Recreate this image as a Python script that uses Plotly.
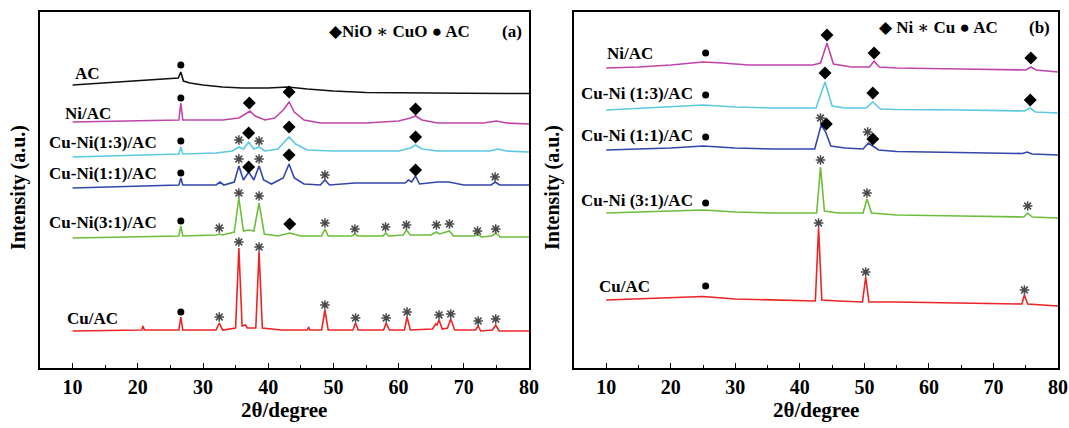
import plotly.graph_objects as go

# ---------------- Panel (a) data (2theta, intensity a.u.) ----------------
a_ac_x = [10, 15, 20, 24, 26.2, 26.6, 27.0, 28, 30, 33, 36, 40, 43, 46, 50, 55, 60, 70, 80]
a_ac_y = [283, 285, 287, 289, 290, 296, 287, 285, 283, 281, 280, 280, 281, 279, 277, 275.5, 275, 274.7, 274.5]

a_ni_x = [10, 20, 26.3, 26.6, 26.9, 33, 35.5, 36.5, 37.2, 38, 39.5, 41, 42.3, 43.2, 44.0, 45.5, 48, 55, 60, 61.8, 62.6, 63.6, 66, 73, 75, 76.5, 80]
a_ni_y = [246, 247, 248, 265, 248, 248, 250, 254, 257, 252, 248, 250, 258, 266, 256, 248, 245, 245, 247, 250, 252, 248, 245, 245, 247, 245, 244]

a_13_x = [10, 20, 26.3, 26.6, 26.9, 32, 34.5, 35.5, 36.2, 37.0, 37.8, 38.6, 39.5, 41.5, 42.5, 43.2, 44.2, 46, 50, 60, 61.8, 62.6, 63.6, 66, 74, 75.2, 76.5, 80]
a_13_y = [211, 213, 214, 221, 214, 215, 217, 221, 219, 226, 219, 221, 217, 219, 226, 231, 224, 218, 217, 217, 220, 223, 219, 217, 217, 219, 217, 216]

a_11_x = [10, 20, 26.3, 26.6, 26.9, 32, 32.6, 33.2, 34.8, 35.5, 36.2, 37.0, 37.8, 38.6, 39.3, 40.5, 42.3, 43.2, 44.0, 45.5, 48, 48.7, 49.4, 53.3, 58.1, 61, 61.5, 62, 62.6, 63.2, 66, 67.7, 70, 74.2, 74.8, 75.5, 80]
a_11_y = [180, 182, 183, 190, 183, 183, 186, 183, 186, 202, 188, 196, 188, 202, 188, 184, 190, 204, 190, 184, 183, 188, 183, 185, 185, 185, 188, 186, 192, 184, 186, 186, 183, 183, 186, 183, 183]

a_31_x = [10, 20, 26.3, 26.6, 26.9, 32, 32.5, 33.0, 34.8, 35.5, 36.2, 37.0, 37.8, 38.6, 39.4, 41.5, 43.3, 45, 48.2, 48.7, 49.2, 52.8, 53.3, 53.8, 57.6, 58.0, 58.5, 60.7, 61.2, 61.8, 65.0, 65.8, 66.3, 67.8, 68.4, 71.6, 72.1, 72.7, 74.3, 74.9, 75.6, 80]
a_31_y = [130, 131, 132, 142, 132, 133, 134, 133, 136, 170, 137, 138, 137, 165, 134, 132, 135, 132, 132, 139, 132, 132, 134, 132, 132, 135, 132, 133, 138, 133, 133, 136, 134, 137, 132, 132, 134, 131, 132, 135, 131, 131]

a_cu_x = [10, 20.6, 20.8, 21.0, 26.3, 26.6, 26.9, 32.0, 32.5, 33.0, 35.0, 35.5, 36.0, 36.5, 36.8, 38.1, 38.6, 39.1, 42, 46.0, 46.2, 46.4, 48.2, 48.7, 49.2, 53.0, 53.4, 53.8, 57.7, 58.1, 58.6, 60.9, 61.3, 61.8, 65.2, 65.7, 65.9, 66.2, 66.7, 67.5, 68.0, 68.6, 71.8, 72.2, 72.6, 74.4, 74.9, 75.4, 80]
a_cu_y = [37, 38, 42, 38, 38, 51, 38, 38, 45, 38, 40, 120, 42, 43, 40, 40, 116, 40, 38, 38, 41, 38, 38, 58, 38, 38, 45, 38, 38, 45, 38, 38, 51, 38, 39, 44, 43, 48, 39, 40, 49, 38, 38, 42, 37, 38, 43, 37, 37]

a_dia_x = [37.1, 43.2, 62.6, 37.0, 43.2, 62.6, 37.0, 43.2, 62.6, 43.3]
a_dia_y = [265, 276, 259, 235, 241, 231, 201, 213, 198, 144]
a_star_x = [35.5, 38.6, 35.5, 38.6, 48.7, 74.8, 32.5, 35.5, 38.6, 48.7, 53.3, 58.0, 61.2, 65.8, 67.8, 72.1, 74.9,
            32.5, 35.5, 38.6, 48.7, 53.4, 58.1, 61.3, 66.2, 68.0, 72.2, 74.9]
a_star_y = [228, 227, 209, 209, 193, 191, 140, 175, 172, 145, 139, 141, 143, 143, 144, 137, 139,
            51, 126, 121, 63, 50, 50, 56, 53, 54, 47, 49]
a_dot_x = [26.6, 26.6, 26.6, 26.6, 26.6, 26.6]
a_dot_y = [303, 270, 227, 195, 147, 56]

a_labels = ["AC", "Ni/AC", "Cu-Ni(1:3)/AC", "Cu-Ni(1:1)/AC", "Cu-Ni(3:1)/AC", "Cu/AC"]
a_label_x = [10.0, 8.5, 6.0, 6.0, 6.0, 8.8]
a_label_y = [295, 255, 226, 195, 146, 50]

# ---------------- Panel (b) data ----------------
b_ni_x = [10, 15, 20, 25, 28, 32, 36, 42, 43.2, 44.2, 45.2, 48, 50.8, 51.5, 52.3, 55, 65, 75, 75.8, 76.6, 80]
b_ni_y = [300, 301, 303, 306, 305, 303, 303, 303, 305, 325, 304, 301, 301, 307, 301, 300, 299, 298, 301, 298, 296]

b_13_x = [10, 20, 25, 30, 36, 42.5, 43.9, 45.0, 47, 50.3, 51.3, 52.5, 55, 65, 74.8, 75.7, 76.5, 80]
b_13_y = [258, 261, 263, 261, 260, 260, 286, 262, 260, 260, 266, 259, 258.5, 258, 257, 260, 256, 255]

b_11_x = [10, 20, 25, 30, 36, 42.3, 43.3, 44.0, 44.8, 47, 49.8, 50.6, 51.3, 52.2, 55, 65, 74.5, 75.2, 76, 80]
b_11_y = [218, 220, 222, 220, 219, 219, 243, 236, 222, 220, 219, 225, 222, 218, 216.5, 215.5, 214.5, 216, 214, 213]

b_31_x = [10, 20, 25, 30, 36, 42.6, 43.2, 43.8, 46, 49.8, 50.4, 51.1, 55, 65, 74.7, 75.3, 76, 80]
b_31_y = [155, 157, 158, 156, 155, 155, 201, 157, 155, 155, 169, 155, 153, 152, 151, 155, 151, 150]

b_cu_x = [10, 20, 25, 30, 36, 42.4, 42.9, 43.4, 46, 49.7, 50.2, 50.7, 55, 65, 74.4, 74.8, 75.3, 80]
b_cu_y = [68, 70, 71.5, 69, 68, 67, 140, 68, 67, 66, 91, 66, 66, 65, 64, 73, 64, 62]

b_dia_x = [44.2, 51.5, 75.8, 43.9, 51.3, 75.7, 44.1, 51.3]
b_dia_y = [333, 315, 310, 295, 275, 268, 244, 229]
b_star_x = [43.2, 50.5, 43.2, 50.4, 75.3, 42.9, 50.2, 74.8]
b_star_y = [250, 236, 208, 175, 162, 145, 96, 78]
b_dot_x = [25.4, 25.4, 25.4, 25.4, 25.4]
b_dot_y = [315, 273, 231, 165, 82]

b_labels = ["Ni/AC", "Cu-Ni (1:3)/AC", "Cu-Ni (1:1)/AC", "Cu-Ni (3:1)/AC", "Cu/AC"]
b_label_x = [9.8, 5.8, 5.8, 5.8, 8.5]
b_label_y = [315, 275, 233, 168, 82]

x_ticks = [10, 20, 30, 40, 50, 60, 70, 80]
x_minor = [15, 25, 35, 45, 55, 65, 75]

C_BLACK = "#111111"
C_MAG = "#C044AA"
C_CYAN = "#5CC8E2"
C_BLUE = "#3346AC"
C_GREEN = "#6CBE3A"
C_RED = "#EC2424"

FONT = "Liberation Serif, DejaVu Serif, serif"

fig = go.Figure()

def line(x, y, color, xa, ya):
    fig.add_trace(go.Scatter(x=x, y=y, mode="lines", line=dict(color=color, width=1.6),
                             xaxis=xa, yaxis=ya, showlegend=False, hoverinfo="skip"))

for x, y, c in [(a_ac_x, a_ac_y, C_BLACK), (a_ni_x, a_ni_y, C_MAG), (a_13_x, a_13_y, C_CYAN),
                (a_11_x, a_11_y, C_BLUE), (a_31_x, a_31_y, C_GREEN), (a_cu_x, a_cu_y, C_RED)]:
    line(x, y, c, "x", "y")
for x, y, c in [(b_ni_x, b_ni_y, C_MAG), (b_13_x, b_13_y, C_CYAN), (b_11_x, b_11_y, C_BLUE),
                (b_31_x, b_31_y, C_GREEN), (b_cu_x, b_cu_y, C_RED)]:
    line(x, y, c, "x2", "y2")

def marks(dx, dy, sx, sy, cx, cy, xa, ya):
    fig.add_trace(go.Scatter(x=dx, y=dy, mode="markers", xaxis=xa, yaxis=ya, showlegend=False,
                             marker=dict(symbol="diamond", size=10, color="black"), hoverinfo="skip"))
    fig.add_trace(go.Scatter(x=sx, y=sy, mode="markers", xaxis=xa, yaxis=ya, showlegend=False,
                             marker=dict(symbol="asterisk-open", size=8, color="#4a4a4a",
                                         line=dict(color="#4a4a4a", width=1.5)),
                             hoverinfo="skip"))
    fig.add_trace(go.Scatter(x=cx, y=cy, mode="markers", xaxis=xa, yaxis=ya, showlegend=False,
                             marker=dict(symbol="circle", size=7, color="black"), hoverinfo="skip"))

marks(a_dia_x, a_dia_y, a_star_x, a_star_y, a_dot_x, a_dot_y, "x", "y")
marks(b_dia_x, b_dia_y, b_star_x, b_star_y, b_dot_x, b_dot_y, "x2", "y2")

ann = []
for t, x, y in zip(a_labels, a_label_x, a_label_y):
    ann.append(dict(text="<b>%s</b>" % t, x=x, y=y, xref="x", yref="y", xanchor="left", yanchor="middle",
                    showarrow=False, font=dict(family=FONT, size=17, color="black")))
for t, x, y in zip(b_labels, b_label_x, b_label_y):
    ann.append(dict(text="<b>%s</b>" % t, x=x, y=y, xref="x2", yref="y2", xanchor="left", yanchor="middle",
                    showarrow=False, font=dict(family=FONT, size=17, color="black")))

ann.append(dict(text="<b>◆NiO ∗ CuO ● AC</b>", x=49.0, y=337, xref="x", yref="y", xanchor="left",
                yanchor="middle", showarrow=False, font=dict(family=FONT, size=17, color="black")))
ann.append(dict(text="<b>(a)</b>", x=79.3, y=337, xref="x", yref="y", xanchor="right",
                yanchor="middle", showarrow=False, font=dict(family=FONT, size=17, color="black")))
ann.append(dict(text="<b>◆ Ni ∗ Cu ● AC</b>", x=52.0, y=341, xref="x2", yref="y2", xanchor="left",
                yanchor="middle", showarrow=False, font=dict(family=FONT, size=17, color="black")))
ann.append(dict(text="<b>(b)</b>", x=79.1, y=341, xref="x2", yref="y2", xanchor="right",
                yanchor="middle", showarrow=False, font=dict(family=FONT, size=17, color="black")))

# axis titles
for xc in [284.5 / 1069, 816 / 1069]:
    ann.append(dict(text="<b>2θ/degree</b>", x=xc, y=1 - 410 / 428, xref="paper", yref="paper",
                    xanchor="center", yanchor="middle", showarrow=False,
                    font=dict(family=FONT, size=21, color="black")))
for xc in [19 / 1069, 553 / 1069]:
    ann.append(dict(text="<b>Intensity (a.u.)</b>", x=xc, y=1 - 188 / 428, xref="paper", yref="paper",
                    xanchor="center", yanchor="middle", showarrow=False, textangle=-90,
                    font=dict(family=FONT, size=20, color="black")))

xa_common = dict(range=[5, 80], tickmode="array", tickvals=x_ticks,
                 ticktext=["<b>%d</b>" % v for v in x_ticks],
                 ticks="inside", ticklen=5, tickwidth=1.2, tickcolor="black",
                 minor=dict(ticks="inside", tickvals=x_minor, ticklen=3, tickcolor="black"),
                 showline=True, linecolor="black", linewidth=1.6, mirror=True, showgrid=False, zeroline=False,
                 tickfont=dict(family=FONT, size=20, color="black"), automargin=False)
ya_common = dict(range=[0, 356], showticklabels=False, ticks="", showline=True, linecolor="black",
                 linewidth=1.6, mirror=True, showgrid=False, zeroline=False, automargin=False)

fig.update_layout(
    width=1069, height=428, margin=dict(l=0, r=0, t=0, b=0),
    paper_bgcolor="white", plot_bgcolor="white",
    xaxis=dict(domain=[40 / 1069, 529 / 1069], anchor="y", **xa_common),
    yaxis=dict(domain=[60 / 428, 416 / 428], anchor="x", **ya_common),
    xaxis2=dict(domain=[574 / 1069, 1058 / 1069], anchor="y2", **xa_common),
    yaxis2=dict(domain=[60 / 428, 416 / 428], anchor="x2", **ya_common),
    annotations=ann,
)

fig.write_html("out.html", config={"displayModeBar": False},
               post_script="document.body.style.margin='0';document.body.style.overflow='hidden';")
